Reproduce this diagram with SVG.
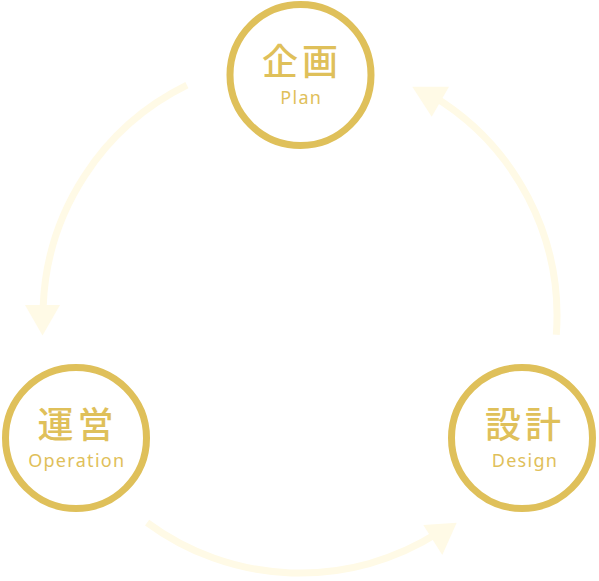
<svg xmlns="http://www.w3.org/2000/svg" width="599" height="581" viewBox="0 0 599 581">
<style>
.arc{fill:none;stroke:#fffae6;stroke-width:7;}
.head{fill:#fffae6;}
.node circle{fill:#ffffff;stroke:#dfc05a;stroke-width:7;}
.jp{font-family:"Noto Sans CJK JP","Noto Sans",sans-serif;font-size:36px;fill:#dfc05a;text-anchor:middle;letter-spacing:4px;font-weight:500;}
.en{font-family:"Noto Sans","Open Sans",sans-serif;font-size:18px;fill:#dfc05a;text-anchor:middle;letter-spacing:1.3px;}
</style>
<rect width="599" height="581" fill="#ffffff"/>
<g id="connectors">
<path class="arc" d="M186.9,85.2 A257,257 0 0 0 43.2,306"/>
<polygon class="head" points="25,305 60,305 42.5,335.5"/>
<path class="arc" d="M556.3,334.8 A257,257 0 0 0 432.4,95.7"/>
<polygon class="head" points="412.3,86.7 449,86.7 431.7,116.7"/>
<path class="arc" d="M147.1,522.6 A257,257 0 0 0 438.1,532.8"/>
<polygon class="head" points="423.3,525 456.7,522.7 442.3,555"/>
</g>
<g id="node-plan" class="node">
<circle cx="300.5" cy="75" r="70.5"/>
<text class="jp" x="302" y="74.5">企画</text>
<text class="en" x="301.3" y="103.5">Plan</text>
</g>
<g id="node-operation" class="node">
<circle cx="76" cy="438" r="70.5"/>
<text class="jp" x="77.5" y="437.5">運営</text>
<text class="en" x="76.8" y="466.5">Operation</text>
</g>
<g id="node-design" class="node">
<circle cx="522" cy="438" r="70.5"/>
<text class="jp" x="525" y="437.5">設計</text>
<text class="en" x="525" y="466.5">Design</text>
</g>
</svg>
